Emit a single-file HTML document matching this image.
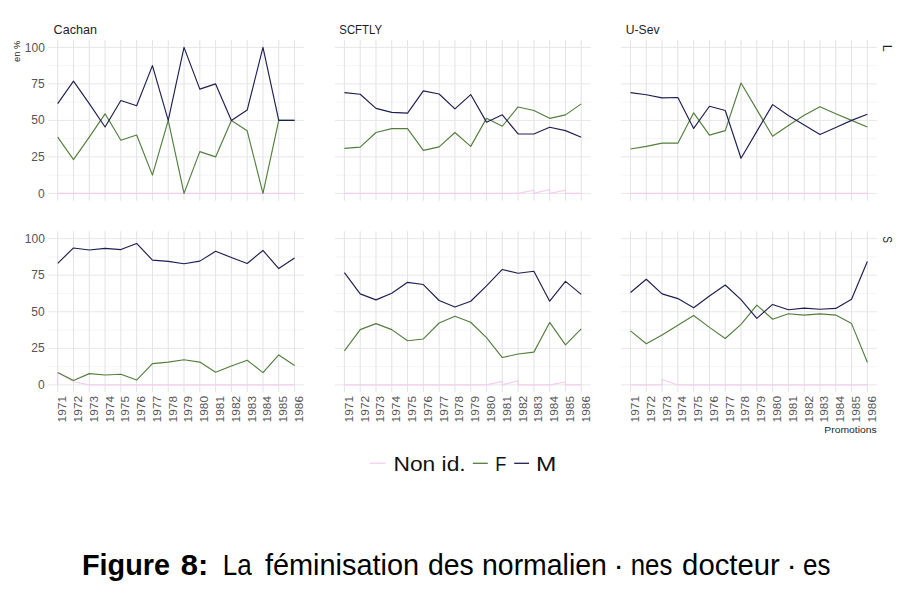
<!DOCTYPE html>
<html><head><meta charset="utf-8"><style>
html,body{margin:0;padding:0;background:#fff;}
body{width:912px;height:610px;position:relative;overflow:hidden;font-family:"Liberation Sans",sans-serif;}
</style></head><body>
<svg width="912" height="610" viewBox="0 0 912 610" style="position:absolute;left:0;top:0">
<line x1="48.20" y1="175.15" x2="304.05" y2="175.15" stroke="#f5f5f5" stroke-width="1"/>
<line x1="48.20" y1="138.65" x2="304.05" y2="138.65" stroke="#f5f5f5" stroke-width="1"/>
<line x1="48.20" y1="102.15" x2="304.05" y2="102.15" stroke="#f5f5f5" stroke-width="1"/>
<line x1="48.20" y1="65.65" x2="304.05" y2="65.65" stroke="#f5f5f5" stroke-width="1"/>
<line x1="57.70" y1="40.10" x2="57.70" y2="200.70" stroke="#e2e2e7" stroke-width="1"/>
<line x1="73.49" y1="40.10" x2="73.49" y2="200.70" stroke="#e2e2e7" stroke-width="1"/>
<line x1="89.28" y1="40.10" x2="89.28" y2="200.70" stroke="#e2e2e7" stroke-width="1"/>
<line x1="105.07" y1="40.10" x2="105.07" y2="200.70" stroke="#e2e2e7" stroke-width="1"/>
<line x1="120.86" y1="40.10" x2="120.86" y2="200.70" stroke="#e2e2e7" stroke-width="1"/>
<line x1="136.65" y1="40.10" x2="136.65" y2="200.70" stroke="#e2e2e7" stroke-width="1"/>
<line x1="152.44" y1="40.10" x2="152.44" y2="200.70" stroke="#e2e2e7" stroke-width="1"/>
<line x1="168.23" y1="40.10" x2="168.23" y2="200.70" stroke="#e2e2e7" stroke-width="1"/>
<line x1="184.02" y1="40.10" x2="184.02" y2="200.70" stroke="#e2e2e7" stroke-width="1"/>
<line x1="199.81" y1="40.10" x2="199.81" y2="200.70" stroke="#e2e2e7" stroke-width="1"/>
<line x1="215.60" y1="40.10" x2="215.60" y2="200.70" stroke="#e2e2e7" stroke-width="1"/>
<line x1="231.39" y1="40.10" x2="231.39" y2="200.70" stroke="#e2e2e7" stroke-width="1"/>
<line x1="247.18" y1="40.10" x2="247.18" y2="200.70" stroke="#e2e2e7" stroke-width="1"/>
<line x1="262.97" y1="40.10" x2="262.97" y2="200.70" stroke="#e2e2e7" stroke-width="1"/>
<line x1="278.76" y1="40.10" x2="278.76" y2="200.70" stroke="#e2e2e7" stroke-width="1"/>
<line x1="294.55" y1="40.10" x2="294.55" y2="200.70" stroke="#e2e2e7" stroke-width="1"/>
<line x1="48.20" y1="193.40" x2="304.05" y2="193.40" stroke="#e7e7e7" stroke-width="1"/>
<line x1="48.20" y1="156.90" x2="304.05" y2="156.90" stroke="#e7e7e7" stroke-width="1"/>
<line x1="48.20" y1="120.40" x2="304.05" y2="120.40" stroke="#e7e7e7" stroke-width="1"/>
<line x1="48.20" y1="83.90" x2="304.05" y2="83.90" stroke="#e7e7e7" stroke-width="1"/>
<line x1="48.20" y1="47.40" x2="304.05" y2="47.40" stroke="#e7e7e7" stroke-width="1"/>
<line x1="334.90" y1="175.15" x2="590.75" y2="175.15" stroke="#f5f5f5" stroke-width="1"/>
<line x1="334.90" y1="138.65" x2="590.75" y2="138.65" stroke="#f5f5f5" stroke-width="1"/>
<line x1="334.90" y1="102.15" x2="590.75" y2="102.15" stroke="#f5f5f5" stroke-width="1"/>
<line x1="334.90" y1="65.65" x2="590.75" y2="65.65" stroke="#f5f5f5" stroke-width="1"/>
<line x1="344.40" y1="40.10" x2="344.40" y2="200.70" stroke="#e2e2e7" stroke-width="1"/>
<line x1="360.19" y1="40.10" x2="360.19" y2="200.70" stroke="#e2e2e7" stroke-width="1"/>
<line x1="375.98" y1="40.10" x2="375.98" y2="200.70" stroke="#e2e2e7" stroke-width="1"/>
<line x1="391.77" y1="40.10" x2="391.77" y2="200.70" stroke="#e2e2e7" stroke-width="1"/>
<line x1="407.56" y1="40.10" x2="407.56" y2="200.70" stroke="#e2e2e7" stroke-width="1"/>
<line x1="423.35" y1="40.10" x2="423.35" y2="200.70" stroke="#e2e2e7" stroke-width="1"/>
<line x1="439.14" y1="40.10" x2="439.14" y2="200.70" stroke="#e2e2e7" stroke-width="1"/>
<line x1="454.93" y1="40.10" x2="454.93" y2="200.70" stroke="#e2e2e7" stroke-width="1"/>
<line x1="470.72" y1="40.10" x2="470.72" y2="200.70" stroke="#e2e2e7" stroke-width="1"/>
<line x1="486.51" y1="40.10" x2="486.51" y2="200.70" stroke="#e2e2e7" stroke-width="1"/>
<line x1="502.30" y1="40.10" x2="502.30" y2="200.70" stroke="#e2e2e7" stroke-width="1"/>
<line x1="518.09" y1="40.10" x2="518.09" y2="200.70" stroke="#e2e2e7" stroke-width="1"/>
<line x1="533.88" y1="40.10" x2="533.88" y2="200.70" stroke="#e2e2e7" stroke-width="1"/>
<line x1="549.67" y1="40.10" x2="549.67" y2="200.70" stroke="#e2e2e7" stroke-width="1"/>
<line x1="565.46" y1="40.10" x2="565.46" y2="200.70" stroke="#e2e2e7" stroke-width="1"/>
<line x1="581.25" y1="40.10" x2="581.25" y2="200.70" stroke="#e2e2e7" stroke-width="1"/>
<line x1="334.90" y1="193.40" x2="590.75" y2="193.40" stroke="#e7e7e7" stroke-width="1"/>
<line x1="334.90" y1="156.90" x2="590.75" y2="156.90" stroke="#e7e7e7" stroke-width="1"/>
<line x1="334.90" y1="120.40" x2="590.75" y2="120.40" stroke="#e7e7e7" stroke-width="1"/>
<line x1="334.90" y1="83.90" x2="590.75" y2="83.90" stroke="#e7e7e7" stroke-width="1"/>
<line x1="334.90" y1="47.40" x2="590.75" y2="47.40" stroke="#e7e7e7" stroke-width="1"/>
<line x1="621.00" y1="175.15" x2="876.85" y2="175.15" stroke="#f5f5f5" stroke-width="1"/>
<line x1="621.00" y1="138.65" x2="876.85" y2="138.65" stroke="#f5f5f5" stroke-width="1"/>
<line x1="621.00" y1="102.15" x2="876.85" y2="102.15" stroke="#f5f5f5" stroke-width="1"/>
<line x1="621.00" y1="65.65" x2="876.85" y2="65.65" stroke="#f5f5f5" stroke-width="1"/>
<line x1="630.50" y1="40.10" x2="630.50" y2="200.70" stroke="#e2e2e7" stroke-width="1"/>
<line x1="646.29" y1="40.10" x2="646.29" y2="200.70" stroke="#e2e2e7" stroke-width="1"/>
<line x1="662.08" y1="40.10" x2="662.08" y2="200.70" stroke="#e2e2e7" stroke-width="1"/>
<line x1="677.87" y1="40.10" x2="677.87" y2="200.70" stroke="#e2e2e7" stroke-width="1"/>
<line x1="693.66" y1="40.10" x2="693.66" y2="200.70" stroke="#e2e2e7" stroke-width="1"/>
<line x1="709.45" y1="40.10" x2="709.45" y2="200.70" stroke="#e2e2e7" stroke-width="1"/>
<line x1="725.24" y1="40.10" x2="725.24" y2="200.70" stroke="#e2e2e7" stroke-width="1"/>
<line x1="741.03" y1="40.10" x2="741.03" y2="200.70" stroke="#e2e2e7" stroke-width="1"/>
<line x1="756.82" y1="40.10" x2="756.82" y2="200.70" stroke="#e2e2e7" stroke-width="1"/>
<line x1="772.61" y1="40.10" x2="772.61" y2="200.70" stroke="#e2e2e7" stroke-width="1"/>
<line x1="788.40" y1="40.10" x2="788.40" y2="200.70" stroke="#e2e2e7" stroke-width="1"/>
<line x1="804.19" y1="40.10" x2="804.19" y2="200.70" stroke="#e2e2e7" stroke-width="1"/>
<line x1="819.98" y1="40.10" x2="819.98" y2="200.70" stroke="#e2e2e7" stroke-width="1"/>
<line x1="835.77" y1="40.10" x2="835.77" y2="200.70" stroke="#e2e2e7" stroke-width="1"/>
<line x1="851.56" y1="40.10" x2="851.56" y2="200.70" stroke="#e2e2e7" stroke-width="1"/>
<line x1="867.35" y1="40.10" x2="867.35" y2="200.70" stroke="#e2e2e7" stroke-width="1"/>
<line x1="621.00" y1="193.40" x2="876.85" y2="193.40" stroke="#e7e7e7" stroke-width="1"/>
<line x1="621.00" y1="156.90" x2="876.85" y2="156.90" stroke="#e7e7e7" stroke-width="1"/>
<line x1="621.00" y1="120.40" x2="876.85" y2="120.40" stroke="#e7e7e7" stroke-width="1"/>
<line x1="621.00" y1="83.90" x2="876.85" y2="83.90" stroke="#e7e7e7" stroke-width="1"/>
<line x1="621.00" y1="47.40" x2="876.85" y2="47.40" stroke="#e7e7e7" stroke-width="1"/>
<line x1="48.20" y1="366.61" x2="304.05" y2="366.61" stroke="#f5f5f5" stroke-width="1"/>
<line x1="48.20" y1="330.04" x2="304.05" y2="330.04" stroke="#f5f5f5" stroke-width="1"/>
<line x1="48.20" y1="293.46" x2="304.05" y2="293.46" stroke="#f5f5f5" stroke-width="1"/>
<line x1="48.20" y1="256.89" x2="304.05" y2="256.89" stroke="#f5f5f5" stroke-width="1"/>
<line x1="57.70" y1="231.28" x2="57.70" y2="392.21" stroke="#e2e2e7" stroke-width="1"/>
<line x1="73.49" y1="231.28" x2="73.49" y2="392.21" stroke="#e2e2e7" stroke-width="1"/>
<line x1="89.28" y1="231.28" x2="89.28" y2="392.21" stroke="#e2e2e7" stroke-width="1"/>
<line x1="105.07" y1="231.28" x2="105.07" y2="392.21" stroke="#e2e2e7" stroke-width="1"/>
<line x1="120.86" y1="231.28" x2="120.86" y2="392.21" stroke="#e2e2e7" stroke-width="1"/>
<line x1="136.65" y1="231.28" x2="136.65" y2="392.21" stroke="#e2e2e7" stroke-width="1"/>
<line x1="152.44" y1="231.28" x2="152.44" y2="392.21" stroke="#e2e2e7" stroke-width="1"/>
<line x1="168.23" y1="231.28" x2="168.23" y2="392.21" stroke="#e2e2e7" stroke-width="1"/>
<line x1="184.02" y1="231.28" x2="184.02" y2="392.21" stroke="#e2e2e7" stroke-width="1"/>
<line x1="199.81" y1="231.28" x2="199.81" y2="392.21" stroke="#e2e2e7" stroke-width="1"/>
<line x1="215.60" y1="231.28" x2="215.60" y2="392.21" stroke="#e2e2e7" stroke-width="1"/>
<line x1="231.39" y1="231.28" x2="231.39" y2="392.21" stroke="#e2e2e7" stroke-width="1"/>
<line x1="247.18" y1="231.28" x2="247.18" y2="392.21" stroke="#e2e2e7" stroke-width="1"/>
<line x1="262.97" y1="231.28" x2="262.97" y2="392.21" stroke="#e2e2e7" stroke-width="1"/>
<line x1="278.76" y1="231.28" x2="278.76" y2="392.21" stroke="#e2e2e7" stroke-width="1"/>
<line x1="294.55" y1="231.28" x2="294.55" y2="392.21" stroke="#e2e2e7" stroke-width="1"/>
<line x1="48.20" y1="384.90" x2="304.05" y2="384.90" stroke="#e7e7e7" stroke-width="1"/>
<line x1="48.20" y1="348.32" x2="304.05" y2="348.32" stroke="#e7e7e7" stroke-width="1"/>
<line x1="48.20" y1="311.75" x2="304.05" y2="311.75" stroke="#e7e7e7" stroke-width="1"/>
<line x1="48.20" y1="275.18" x2="304.05" y2="275.18" stroke="#e7e7e7" stroke-width="1"/>
<line x1="48.20" y1="238.60" x2="304.05" y2="238.60" stroke="#e7e7e7" stroke-width="1"/>
<line x1="334.90" y1="366.61" x2="590.75" y2="366.61" stroke="#f5f5f5" stroke-width="1"/>
<line x1="334.90" y1="330.04" x2="590.75" y2="330.04" stroke="#f5f5f5" stroke-width="1"/>
<line x1="334.90" y1="293.46" x2="590.75" y2="293.46" stroke="#f5f5f5" stroke-width="1"/>
<line x1="334.90" y1="256.89" x2="590.75" y2="256.89" stroke="#f5f5f5" stroke-width="1"/>
<line x1="344.40" y1="231.28" x2="344.40" y2="392.21" stroke="#e2e2e7" stroke-width="1"/>
<line x1="360.19" y1="231.28" x2="360.19" y2="392.21" stroke="#e2e2e7" stroke-width="1"/>
<line x1="375.98" y1="231.28" x2="375.98" y2="392.21" stroke="#e2e2e7" stroke-width="1"/>
<line x1="391.77" y1="231.28" x2="391.77" y2="392.21" stroke="#e2e2e7" stroke-width="1"/>
<line x1="407.56" y1="231.28" x2="407.56" y2="392.21" stroke="#e2e2e7" stroke-width="1"/>
<line x1="423.35" y1="231.28" x2="423.35" y2="392.21" stroke="#e2e2e7" stroke-width="1"/>
<line x1="439.14" y1="231.28" x2="439.14" y2="392.21" stroke="#e2e2e7" stroke-width="1"/>
<line x1="454.93" y1="231.28" x2="454.93" y2="392.21" stroke="#e2e2e7" stroke-width="1"/>
<line x1="470.72" y1="231.28" x2="470.72" y2="392.21" stroke="#e2e2e7" stroke-width="1"/>
<line x1="486.51" y1="231.28" x2="486.51" y2="392.21" stroke="#e2e2e7" stroke-width="1"/>
<line x1="502.30" y1="231.28" x2="502.30" y2="392.21" stroke="#e2e2e7" stroke-width="1"/>
<line x1="518.09" y1="231.28" x2="518.09" y2="392.21" stroke="#e2e2e7" stroke-width="1"/>
<line x1="533.88" y1="231.28" x2="533.88" y2="392.21" stroke="#e2e2e7" stroke-width="1"/>
<line x1="549.67" y1="231.28" x2="549.67" y2="392.21" stroke="#e2e2e7" stroke-width="1"/>
<line x1="565.46" y1="231.28" x2="565.46" y2="392.21" stroke="#e2e2e7" stroke-width="1"/>
<line x1="581.25" y1="231.28" x2="581.25" y2="392.21" stroke="#e2e2e7" stroke-width="1"/>
<line x1="334.90" y1="384.90" x2="590.75" y2="384.90" stroke="#e7e7e7" stroke-width="1"/>
<line x1="334.90" y1="348.32" x2="590.75" y2="348.32" stroke="#e7e7e7" stroke-width="1"/>
<line x1="334.90" y1="311.75" x2="590.75" y2="311.75" stroke="#e7e7e7" stroke-width="1"/>
<line x1="334.90" y1="275.18" x2="590.75" y2="275.18" stroke="#e7e7e7" stroke-width="1"/>
<line x1="334.90" y1="238.60" x2="590.75" y2="238.60" stroke="#e7e7e7" stroke-width="1"/>
<line x1="621.00" y1="366.61" x2="876.85" y2="366.61" stroke="#f5f5f5" stroke-width="1"/>
<line x1="621.00" y1="330.04" x2="876.85" y2="330.04" stroke="#f5f5f5" stroke-width="1"/>
<line x1="621.00" y1="293.46" x2="876.85" y2="293.46" stroke="#f5f5f5" stroke-width="1"/>
<line x1="621.00" y1="256.89" x2="876.85" y2="256.89" stroke="#f5f5f5" stroke-width="1"/>
<line x1="630.50" y1="231.28" x2="630.50" y2="392.21" stroke="#e2e2e7" stroke-width="1"/>
<line x1="646.29" y1="231.28" x2="646.29" y2="392.21" stroke="#e2e2e7" stroke-width="1"/>
<line x1="662.08" y1="231.28" x2="662.08" y2="392.21" stroke="#e2e2e7" stroke-width="1"/>
<line x1="677.87" y1="231.28" x2="677.87" y2="392.21" stroke="#e2e2e7" stroke-width="1"/>
<line x1="693.66" y1="231.28" x2="693.66" y2="392.21" stroke="#e2e2e7" stroke-width="1"/>
<line x1="709.45" y1="231.28" x2="709.45" y2="392.21" stroke="#e2e2e7" stroke-width="1"/>
<line x1="725.24" y1="231.28" x2="725.24" y2="392.21" stroke="#e2e2e7" stroke-width="1"/>
<line x1="741.03" y1="231.28" x2="741.03" y2="392.21" stroke="#e2e2e7" stroke-width="1"/>
<line x1="756.82" y1="231.28" x2="756.82" y2="392.21" stroke="#e2e2e7" stroke-width="1"/>
<line x1="772.61" y1="231.28" x2="772.61" y2="392.21" stroke="#e2e2e7" stroke-width="1"/>
<line x1="788.40" y1="231.28" x2="788.40" y2="392.21" stroke="#e2e2e7" stroke-width="1"/>
<line x1="804.19" y1="231.28" x2="804.19" y2="392.21" stroke="#e2e2e7" stroke-width="1"/>
<line x1="819.98" y1="231.28" x2="819.98" y2="392.21" stroke="#e2e2e7" stroke-width="1"/>
<line x1="835.77" y1="231.28" x2="835.77" y2="392.21" stroke="#e2e2e7" stroke-width="1"/>
<line x1="851.56" y1="231.28" x2="851.56" y2="392.21" stroke="#e2e2e7" stroke-width="1"/>
<line x1="867.35" y1="231.28" x2="867.35" y2="392.21" stroke="#e2e2e7" stroke-width="1"/>
<line x1="621.00" y1="384.90" x2="876.85" y2="384.90" stroke="#e7e7e7" stroke-width="1"/>
<line x1="621.00" y1="348.32" x2="876.85" y2="348.32" stroke="#e7e7e7" stroke-width="1"/>
<line x1="621.00" y1="311.75" x2="876.85" y2="311.75" stroke="#e7e7e7" stroke-width="1"/>
<line x1="621.00" y1="275.18" x2="876.85" y2="275.18" stroke="#e7e7e7" stroke-width="1"/>
<line x1="621.00" y1="238.60" x2="876.85" y2="238.60" stroke="#e7e7e7" stroke-width="1"/>
<path d="M57.70,193.40 L73.49,193.40 L89.28,193.40 L105.07,193.40 L120.86,193.40 L136.65,193.40 L152.44,193.40 L168.23,193.40 L184.02,193.40 L199.81,193.40 L215.60,193.40 L231.39,193.40 L247.18,193.40 L262.97,193.40 L278.76,193.40 L294.55,193.40" fill="none" stroke="#f4cdef" stroke-width="1.1" stroke-linejoin="round"/>
<path d="M57.70,137.19 L73.49,159.67 L89.28,137.19 L105.07,113.83 L120.86,140.26 L136.65,135.00 L152.44,175.15 L168.23,120.40 L184.02,193.40 L199.81,151.64 L215.60,156.90 L231.39,120.40 L247.18,130.77 L262.97,193.40 L278.76,120.40 L294.55,120.40" fill="none" stroke="#537f3d" stroke-width="1.15" stroke-linejoin="round"/>
<path d="M57.70,103.61 L73.49,81.13 L89.28,103.61 L105.07,126.97 L120.86,100.54 L136.65,105.80 L152.44,65.65 L168.23,120.40 L184.02,47.40 L199.81,89.16 L215.60,83.90 L231.39,120.40 L247.18,110.03 L262.97,47.40 L278.76,120.40 L294.55,120.40" fill="none" stroke="#1f1e50" stroke-width="1.15" stroke-linejoin="round"/>
<path d="M344.40,193.40 L360.19,193.40 L375.98,193.40 L391.77,193.40 L407.56,193.40 L423.35,193.40 L439.14,193.40 L454.93,193.40 L470.72,193.40 L486.51,193.40 L502.30,193.40 L518.09,193.40 L533.88,190.19 L533.88,193.40 L549.67,189.46 L549.67,193.40 L565.46,190.19 L565.46,193.40 L581.25,193.40" fill="none" stroke="#f4cdef" stroke-width="1.1" stroke-linejoin="round"/>
<path d="M344.40,148.43 L360.19,147.12 L375.98,132.52 L391.77,128.58 L407.56,128.58 L423.35,150.33 L439.14,146.83 L454.93,132.52 L470.72,146.39 L486.51,118.36 L502.30,126.24 L518.09,106.97 L533.88,110.47 L549.67,118.36 L565.46,114.85 L581.25,103.90" fill="none" stroke="#537f3d" stroke-width="1.15" stroke-linejoin="round"/>
<path d="M344.40,92.66 L360.19,94.27 L375.98,108.43 L391.77,112.37 L407.56,113.10 L423.35,90.91 L439.14,93.97 L454.93,108.87 L470.72,94.56 L486.51,122.15 L502.30,114.85 L518.09,133.98 L533.88,133.98 L549.67,127.26 L565.46,130.62 L581.25,137.19" fill="none" stroke="#1f1e50" stroke-width="1.15" stroke-linejoin="round"/>
<path d="M630.50,193.40 L646.29,193.40 L662.08,193.40 L677.87,193.40 L693.66,193.40 L709.45,193.40 L725.24,193.40 L741.03,193.40 L756.82,193.40 L772.61,193.40 L788.40,193.40 L804.19,193.40 L819.98,193.40 L835.77,193.40 L851.56,193.40 L867.35,193.40" fill="none" stroke="#f4cdef" stroke-width="1.1" stroke-linejoin="round"/>
<path d="M630.50,149.02 L646.29,146.39 L662.08,143.18 L677.87,143.18 L693.66,112.81 L709.45,135.15 L725.24,130.62 L741.03,83.02 L756.82,109.60 L772.61,136.31 L788.40,125.51 L804.19,115.29 L819.98,106.82 L835.77,113.68 L851.56,120.40 L867.35,126.97" fill="none" stroke="#537f3d" stroke-width="1.15" stroke-linejoin="round"/>
<path d="M630.50,92.66 L646.29,94.70 L662.08,97.92 L677.87,97.48 L693.66,128.43 L709.45,106.24 L725.24,110.47 L741.03,158.21 L756.82,131.35 L772.61,104.63 L788.40,115.44 L804.19,124.93 L819.98,134.56 L835.77,127.41 L851.56,120.40 L867.35,114.27" fill="none" stroke="#1f1e50" stroke-width="1.15" stroke-linejoin="round"/>
<path d="M57.70,384.90 L57.70,372.61 L73.49,381.68 L89.28,384.90 L105.07,384.90 L120.86,384.90 L136.65,384.90 L152.44,384.90 L168.23,384.90 L184.02,384.90 L199.81,384.90 L215.60,384.90 L231.39,384.90 L247.18,384.90 L262.97,384.90 L278.76,384.90 L294.55,384.90" fill="none" stroke="#f4cdef" stroke-width="1.1" stroke-linejoin="round"/>
<path d="M57.70,372.61 L73.49,380.51 L89.28,373.63 L105.07,374.95 L120.86,374.22 L136.65,380.07 L152.44,363.69 L168.23,362.08 L184.02,359.74 L199.81,362.08 L215.60,372.17 L231.39,366.03 L247.18,360.18 L262.97,372.61 L278.76,354.91 L294.55,365.44" fill="none" stroke="#537f3d" stroke-width="1.15" stroke-linejoin="round"/>
<path d="M57.70,263.32 L73.49,247.96 L89.28,250.01 L105.07,248.40 L120.86,249.57 L136.65,243.43 L152.44,260.11 L168.23,261.42 L184.02,263.76 L199.81,261.13 L215.60,251.33 L231.39,257.47 L247.18,263.47 L262.97,250.45 L278.76,268.59 L294.55,258.06" fill="none" stroke="#1f1e50" stroke-width="1.15" stroke-linejoin="round"/>
<path d="M344.40,384.90 L360.19,384.90 L375.98,384.90 L391.77,384.90 L407.56,384.90 L423.35,384.90 L439.14,384.90 L454.93,384.90 L470.72,384.90 L486.51,384.90 L502.30,381.39 L502.30,384.90 L518.09,380.66 L518.09,384.90 L533.88,384.90 L549.67,384.90 L565.46,381.97 L565.46,384.90 L581.25,384.90" fill="none" stroke="#f4cdef" stroke-width="1.1" stroke-linejoin="round"/>
<path d="M344.40,350.81 L360.19,329.60 L375.98,323.60 L391.77,329.60 L407.56,340.72 L423.35,338.96 L439.14,323.02 L454.93,316.29 L470.72,322.28 L486.51,337.65 L502.30,357.54 L518.09,354.03 L533.88,352.13 L549.67,322.43 L565.46,344.81 L581.25,328.87" fill="none" stroke="#537f3d" stroke-width="1.15" stroke-linejoin="round"/>
<path d="M344.40,272.69 L360.19,293.90 L375.98,299.90 L391.77,293.32 L407.56,282.34 L423.35,284.54 L439.14,300.48 L454.93,307.07 L470.72,301.22 L486.51,285.85 L502.30,269.47 L518.09,273.27 L533.88,271.22 L549.67,301.22 L565.46,281.32 L581.25,294.34" fill="none" stroke="#1f1e50" stroke-width="1.15" stroke-linejoin="round"/>
<path d="M630.50,384.90 L646.29,384.90 L662.08,384.90 L662.08,379.49 L677.87,384.90 L693.66,384.90 L709.45,384.90 L725.24,384.90 L741.03,384.90 L756.82,384.90 L772.61,384.90 L788.40,384.90 L804.19,384.90 L819.98,384.90 L835.77,384.90 L851.56,384.90 L867.35,384.90" fill="none" stroke="#f4cdef" stroke-width="1.1" stroke-linejoin="round"/>
<path d="M630.50,330.92 L646.29,343.79 L662.08,335.01 L677.87,325.21 L693.66,315.55 L709.45,327.40 L725.24,338.52 L741.03,324.33 L756.82,305.17 L772.61,319.21 L788.40,313.80 L804.19,315.11 L819.98,313.94 L835.77,315.11 L851.56,323.60 L867.35,362.22" fill="none" stroke="#537f3d" stroke-width="1.15" stroke-linejoin="round"/>
<path d="M630.50,292.44 L646.29,279.27 L662.08,293.90 L677.87,298.58 L693.66,307.80 L709.45,295.95 L725.24,284.98 L741.03,299.61 L756.82,318.33 L772.61,304.44 L788.40,309.70 L804.19,308.09 L819.98,309.26 L835.77,308.39 L851.56,299.17 L867.35,261.42" fill="none" stroke="#1f1e50" stroke-width="1.15" stroke-linejoin="round"/>
<text transform="translate(53.58,33.70) scale(1.0487,1)" font-family="Liberation Sans, sans-serif" font-size="12" font-weight="normal" fill="#1e1e1e">Cachan</text>
<text transform="translate(339.33,33.70) scale(0.9469,1)" font-family="Liberation Sans, sans-serif" font-size="12" font-weight="normal" fill="#1e1e1e">SCFTLY</text>
<text transform="translate(625.69,33.70) scale(1.0140,1)" font-family="Liberation Sans, sans-serif" font-size="12" font-weight="normal" fill="#1e1e1e">U-Sev</text>
<text transform="translate(883.00,44.80) rotate(90) scale(1.0000,1)" font-family="Liberation Sans, sans-serif" font-size="12.5" font-weight="normal" fill="#1e1e1e">L</text>
<text transform="translate(883.00,236.20) rotate(90) scale(0.8000,1)" font-family="Liberation Sans, sans-serif" font-size="12.5" font-weight="normal" fill="#1e1e1e">S</text>
<text transform="translate(38.05,197.53) scale(1.0000,1)" font-family="Liberation Sans, sans-serif" font-size="12" font-weight="normal" fill="#555555">0</text>
<text transform="translate(31.30,160.90) scale(1.0000,1)" font-family="Liberation Sans, sans-serif" font-size="12" font-weight="normal" fill="#555555">25</text>
<text transform="translate(31.30,124.40) scale(1.0000,1)" font-family="Liberation Sans, sans-serif" font-size="12" font-weight="normal" fill="#555555">50</text>
<text transform="translate(31.30,87.90) scale(1.0000,1)" font-family="Liberation Sans, sans-serif" font-size="12" font-weight="normal" fill="#555555">75</text>
<text transform="translate(24.80,51.53) scale(1.0000,1)" font-family="Liberation Sans, sans-serif" font-size="12" font-weight="normal" fill="#555555">100</text>
<text transform="translate(38.05,389.02) scale(1.0000,1)" font-family="Liberation Sans, sans-serif" font-size="12" font-weight="normal" fill="#555555">0</text>
<text transform="translate(31.30,352.32) scale(1.0000,1)" font-family="Liberation Sans, sans-serif" font-size="12" font-weight="normal" fill="#555555">25</text>
<text transform="translate(31.30,315.75) scale(1.0000,1)" font-family="Liberation Sans, sans-serif" font-size="12" font-weight="normal" fill="#555555">50</text>
<text transform="translate(31.30,279.18) scale(1.0000,1)" font-family="Liberation Sans, sans-serif" font-size="12" font-weight="normal" fill="#555555">75</text>
<text transform="translate(24.80,242.72) scale(1.0000,1)" font-family="Liberation Sans, sans-serif" font-size="12" font-weight="normal" fill="#555555">100</text>
<text transform="translate(19.70,61.92) rotate(-90) scale(1.0329,1)" font-family="Liberation Sans, sans-serif" font-size="9" font-weight="normal" fill="#1e1e1e">en %</text>
<text transform="translate(66.15,422.39) rotate(-90) scale(1.0500,1)" font-family="Liberation Sans, sans-serif" font-size="11.3" font-weight="normal" fill="#555555">1971</text>
<text transform="translate(81.94,422.40) rotate(-90) scale(1.0611,1)" font-family="Liberation Sans, sans-serif" font-size="11.3" font-weight="normal" fill="#555555">1972</text>
<text transform="translate(97.73,422.39) rotate(-90) scale(1.0500,1)" font-family="Liberation Sans, sans-serif" font-size="11.3" font-weight="normal" fill="#555555">1973</text>
<text transform="translate(113.52,422.39) rotate(-90) scale(1.0500,1)" font-family="Liberation Sans, sans-serif" font-size="11.3" font-weight="normal" fill="#555555">1974</text>
<text transform="translate(129.31,422.39) rotate(-90) scale(1.0500,1)" font-family="Liberation Sans, sans-serif" font-size="11.3" font-weight="normal" fill="#555555">1975</text>
<text transform="translate(145.10,422.39) rotate(-90) scale(1.0500,1)" font-family="Liberation Sans, sans-serif" font-size="11.3" font-weight="normal" fill="#555555">1976</text>
<text transform="translate(160.89,422.40) rotate(-90) scale(1.0611,1)" font-family="Liberation Sans, sans-serif" font-size="11.3" font-weight="normal" fill="#555555">1977</text>
<text transform="translate(176.68,422.39) rotate(-90) scale(1.0500,1)" font-family="Liberation Sans, sans-serif" font-size="11.3" font-weight="normal" fill="#555555">1978</text>
<text transform="translate(192.47,422.39) rotate(-90) scale(1.0500,1)" font-family="Liberation Sans, sans-serif" font-size="11.3" font-weight="normal" fill="#555555">1979</text>
<text transform="translate(208.26,422.39) rotate(-90) scale(1.0500,1)" font-family="Liberation Sans, sans-serif" font-size="11.3" font-weight="normal" fill="#555555">1980</text>
<text transform="translate(224.05,422.39) rotate(-90) scale(1.0500,1)" font-family="Liberation Sans, sans-serif" font-size="11.3" font-weight="normal" fill="#555555">1981</text>
<text transform="translate(239.84,422.40) rotate(-90) scale(1.0611,1)" font-family="Liberation Sans, sans-serif" font-size="11.3" font-weight="normal" fill="#555555">1982</text>
<text transform="translate(255.63,422.39) rotate(-90) scale(1.0500,1)" font-family="Liberation Sans, sans-serif" font-size="11.3" font-weight="normal" fill="#555555">1983</text>
<text transform="translate(271.42,422.39) rotate(-90) scale(1.0500,1)" font-family="Liberation Sans, sans-serif" font-size="11.3" font-weight="normal" fill="#555555">1984</text>
<text transform="translate(287.21,422.39) rotate(-90) scale(1.0500,1)" font-family="Liberation Sans, sans-serif" font-size="11.3" font-weight="normal" fill="#555555">1985</text>
<text transform="translate(303.00,422.39) rotate(-90) scale(1.0500,1)" font-family="Liberation Sans, sans-serif" font-size="11.3" font-weight="normal" fill="#555555">1986</text>
<text transform="translate(352.85,422.39) rotate(-90) scale(1.0500,1)" font-family="Liberation Sans, sans-serif" font-size="11.3" font-weight="normal" fill="#555555">1971</text>
<text transform="translate(368.64,422.40) rotate(-90) scale(1.0611,1)" font-family="Liberation Sans, sans-serif" font-size="11.3" font-weight="normal" fill="#555555">1972</text>
<text transform="translate(384.43,422.39) rotate(-90) scale(1.0500,1)" font-family="Liberation Sans, sans-serif" font-size="11.3" font-weight="normal" fill="#555555">1973</text>
<text transform="translate(400.22,422.39) rotate(-90) scale(1.0500,1)" font-family="Liberation Sans, sans-serif" font-size="11.3" font-weight="normal" fill="#555555">1974</text>
<text transform="translate(416.01,422.39) rotate(-90) scale(1.0500,1)" font-family="Liberation Sans, sans-serif" font-size="11.3" font-weight="normal" fill="#555555">1975</text>
<text transform="translate(431.80,422.39) rotate(-90) scale(1.0500,1)" font-family="Liberation Sans, sans-serif" font-size="11.3" font-weight="normal" fill="#555555">1976</text>
<text transform="translate(447.59,422.40) rotate(-90) scale(1.0611,1)" font-family="Liberation Sans, sans-serif" font-size="11.3" font-weight="normal" fill="#555555">1977</text>
<text transform="translate(463.38,422.39) rotate(-90) scale(1.0500,1)" font-family="Liberation Sans, sans-serif" font-size="11.3" font-weight="normal" fill="#555555">1978</text>
<text transform="translate(479.17,422.39) rotate(-90) scale(1.0500,1)" font-family="Liberation Sans, sans-serif" font-size="11.3" font-weight="normal" fill="#555555">1979</text>
<text transform="translate(494.96,422.39) rotate(-90) scale(1.0500,1)" font-family="Liberation Sans, sans-serif" font-size="11.3" font-weight="normal" fill="#555555">1980</text>
<text transform="translate(510.75,422.39) rotate(-90) scale(1.0500,1)" font-family="Liberation Sans, sans-serif" font-size="11.3" font-weight="normal" fill="#555555">1981</text>
<text transform="translate(526.54,422.40) rotate(-90) scale(1.0611,1)" font-family="Liberation Sans, sans-serif" font-size="11.3" font-weight="normal" fill="#555555">1982</text>
<text transform="translate(542.33,422.39) rotate(-90) scale(1.0500,1)" font-family="Liberation Sans, sans-serif" font-size="11.3" font-weight="normal" fill="#555555">1983</text>
<text transform="translate(558.12,422.39) rotate(-90) scale(1.0500,1)" font-family="Liberation Sans, sans-serif" font-size="11.3" font-weight="normal" fill="#555555">1984</text>
<text transform="translate(573.91,422.39) rotate(-90) scale(1.0500,1)" font-family="Liberation Sans, sans-serif" font-size="11.3" font-weight="normal" fill="#555555">1985</text>
<text transform="translate(589.70,422.39) rotate(-90) scale(1.0500,1)" font-family="Liberation Sans, sans-serif" font-size="11.3" font-weight="normal" fill="#555555">1986</text>
<text transform="translate(638.95,422.39) rotate(-90) scale(1.0500,1)" font-family="Liberation Sans, sans-serif" font-size="11.3" font-weight="normal" fill="#555555">1971</text>
<text transform="translate(654.74,422.40) rotate(-90) scale(1.0611,1)" font-family="Liberation Sans, sans-serif" font-size="11.3" font-weight="normal" fill="#555555">1972</text>
<text transform="translate(670.53,422.39) rotate(-90) scale(1.0500,1)" font-family="Liberation Sans, sans-serif" font-size="11.3" font-weight="normal" fill="#555555">1973</text>
<text transform="translate(686.32,422.39) rotate(-90) scale(1.0500,1)" font-family="Liberation Sans, sans-serif" font-size="11.3" font-weight="normal" fill="#555555">1974</text>
<text transform="translate(702.11,422.39) rotate(-90) scale(1.0500,1)" font-family="Liberation Sans, sans-serif" font-size="11.3" font-weight="normal" fill="#555555">1975</text>
<text transform="translate(717.90,422.39) rotate(-90) scale(1.0500,1)" font-family="Liberation Sans, sans-serif" font-size="11.3" font-weight="normal" fill="#555555">1976</text>
<text transform="translate(733.69,422.40) rotate(-90) scale(1.0611,1)" font-family="Liberation Sans, sans-serif" font-size="11.3" font-weight="normal" fill="#555555">1977</text>
<text transform="translate(749.48,422.39) rotate(-90) scale(1.0500,1)" font-family="Liberation Sans, sans-serif" font-size="11.3" font-weight="normal" fill="#555555">1978</text>
<text transform="translate(765.27,422.39) rotate(-90) scale(1.0500,1)" font-family="Liberation Sans, sans-serif" font-size="11.3" font-weight="normal" fill="#555555">1979</text>
<text transform="translate(781.06,422.39) rotate(-90) scale(1.0500,1)" font-family="Liberation Sans, sans-serif" font-size="11.3" font-weight="normal" fill="#555555">1980</text>
<text transform="translate(796.85,422.39) rotate(-90) scale(1.0500,1)" font-family="Liberation Sans, sans-serif" font-size="11.3" font-weight="normal" fill="#555555">1981</text>
<text transform="translate(812.64,422.40) rotate(-90) scale(1.0611,1)" font-family="Liberation Sans, sans-serif" font-size="11.3" font-weight="normal" fill="#555555">1982</text>
<text transform="translate(828.43,422.39) rotate(-90) scale(1.0500,1)" font-family="Liberation Sans, sans-serif" font-size="11.3" font-weight="normal" fill="#555555">1983</text>
<text transform="translate(844.22,422.39) rotate(-90) scale(1.0500,1)" font-family="Liberation Sans, sans-serif" font-size="11.3" font-weight="normal" fill="#555555">1984</text>
<text transform="translate(860.01,422.39) rotate(-90) scale(1.0500,1)" font-family="Liberation Sans, sans-serif" font-size="11.3" font-weight="normal" fill="#555555">1985</text>
<text transform="translate(875.80,422.39) rotate(-90) scale(1.0500,1)" font-family="Liberation Sans, sans-serif" font-size="11.3" font-weight="normal" fill="#555555">1986</text>
<text transform="translate(824.28,432.60) scale(1.0915,1)" font-family="Liberation Sans, sans-serif" font-size="9.5" font-weight="normal" fill="#1e1e1e">Promotions</text>
<line x1="369.8" y1="463.2" x2="385.6" y2="463.2" stroke="#f4cdef" stroke-width="1.3"/>
<line x1="472.8" y1="463.3" x2="487.8" y2="463.3" stroke="#537f3d" stroke-width="1.3"/>
<line x1="514.2" y1="463.3" x2="529" y2="463.3" stroke="#1f1e50" stroke-width="1.3"/>
<text transform="translate(393.40,470.80) scale(1.0869,1)" font-family="Liberation Sans, sans-serif" font-size="21" font-weight="normal" fill="#111">Non id.</text>
<text transform="translate(495.18,470.80) scale(0.8683,1)" font-family="Liberation Sans, sans-serif" font-size="21" font-weight="normal" fill="#111">F</text>
<text transform="translate(535.96,470.80) scale(1.1643,1)" font-family="Liberation Sans, sans-serif" font-size="21" font-weight="normal" fill="#111">M</text>
<text transform="translate(81.99,574.70) scale(1.0071,1)" font-family="Liberation Sans, sans-serif" font-size="28.6" font-weight="bold" fill="#000">Figure</text>
<text transform="translate(180.82,574.70) scale(1.0805,1)" font-family="Liberation Sans, sans-serif" font-size="28.6" font-weight="bold" fill="#000">8:</text>
<text transform="translate(222.65,574.70) scale(0.9119,1)" font-family="Liberation Sans, sans-serif" font-size="28.6" font-weight="normal" fill="#000">La</text>
<text transform="translate(264.89,574.70) scale(1.0116,1)" font-family="Liberation Sans, sans-serif" font-size="28.6" font-weight="normal" fill="#000">féminisation</text>
<text transform="translate(427.96,574.70) scale(0.9943,1)" font-family="Liberation Sans, sans-serif" font-size="28.6" font-weight="normal" fill="#000">des</text>
<text transform="translate(482.01,574.70) scale(0.9947,1)" font-family="Liberation Sans, sans-serif" font-size="28.6" font-weight="normal" fill="#000">normalien</text>
<text transform="translate(613.52,574.70) scale(1.0800,1)" font-family="Liberation Sans, sans-serif" font-size="28.6" font-weight="normal" fill="#000">·</text>
<text transform="translate(630.70,574.70) scale(0.9023,1)" font-family="Liberation Sans, sans-serif" font-size="28.6" font-weight="normal" fill="#000">nes</text>
<text transform="translate(682.12,574.70) scale(1.0240,1)" font-family="Liberation Sans, sans-serif" font-size="28.6" font-weight="normal" fill="#000">docteur</text>
<text transform="translate(786.42,574.70) scale(1.0800,1)" font-family="Liberation Sans, sans-serif" font-size="28.6" font-weight="normal" fill="#000">·</text>
<text transform="translate(803.07,574.70) scale(0.9071,1)" font-family="Liberation Sans, sans-serif" font-size="28.6" font-weight="normal" fill="#000">es</text>
</svg>
</body></html>
